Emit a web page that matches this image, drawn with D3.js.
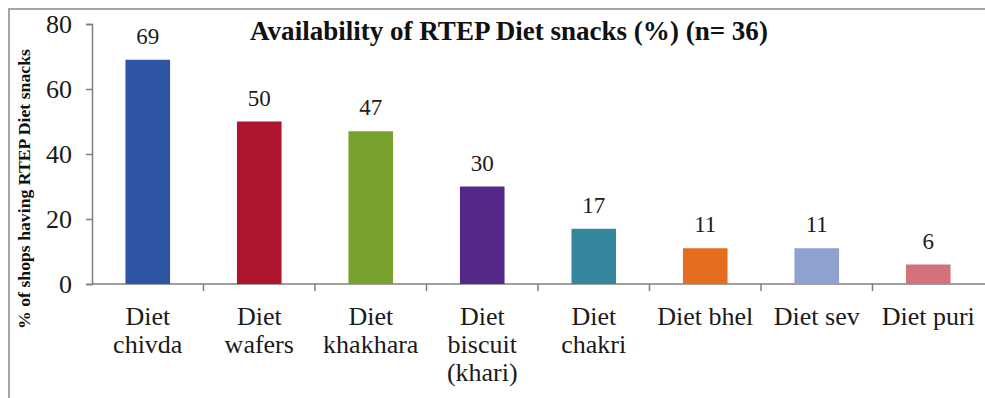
<!DOCTYPE html>
<html>
<head>
<meta charset="utf-8">
<script src="https://cdn.jsdelivr.net/npm/d3@7"></script>
<style>
  html, body { margin: 0; padding: 0; background: #fff; }
  svg { display: block; font-family: "Liberation Serif", "Times New Roman", serif; }
</style>
</head>
<body>
<svg id="chart" width="985" height="398"></svg>
<script>
// Availability of RTEP diet snacks across surveyed shops
const categories = [
  ["Diet", "chivda"],
  ["Diet", "wafers"],
  ["Diet", "khakhara"],
  ["Diet", "biscuit", "(khari)"],
  ["Diet", "chakri"],
  ["Diet bhel"],
  ["Diet sev"],
  ["Diet puri"]
];
const values = [69, 50, 47, 30, 17, 11, 11, 6];
const barColors = ["#2d55a3", "#b01530", "#78a22d", "#55298a", "#34879c", "#e56d1f", "#8fa1cf", "#d4727c"];
const yTicks = [0, 20, 40, 60, 80];
const titleText = "Availability of RTEP Diet snacks (%) (n= 36)";
const yAxisTitle = "% of shops having RTEP Diet snacks";

const svg = d3.select("#chart");
const keys = categories.map(c => c.join(" "));

// outer frame
svg.append("rect")
  .attr("x", 9).attr("y", 9)
  .attr("width", 1000).attr("height", 420)
  .attr("fill", "none")
  .attr("stroke", "#a6a6a6")
  .attr("stroke-width", 2);

const x = d3.scaleBand().domain(keys).range([92, 984]).paddingInner(0.6).paddingOuter(0.3);
const xEdge = d3.scaleLinear().domain([0, keys.length]).range([92, 984]);
const y = d3.scaleLinear().domain([0, 80]).range([284, 24]);

// y axis
const yAxis = svg.append("g")
  .attr("transform", "translate(92,0)")
  .call(d3.axisLeft(y).tickValues(yTicks).tickSize(6).tickPadding(14));
yAxis.select(".domain").attr("stroke", "#7f7f7f").attr("stroke-width", 1.5);
yAxis.selectAll(".tick line").attr("stroke", "#7f7f7f").attr("stroke-width", 1.5);
yAxis.selectAll(".tick text")
  .attr("font-family", "'Liberation Serif', 'Times New Roman', serif")
  .attr("font-size", 26).attr("fill", "#1a1a1a");

// x axis baseline with boundary ticks between categories
const xAxis = svg.append("g");
xAxis.append("line")
  .attr("x1", 92).attr("x2", 985)
  .attr("y1", y(0)).attr("y2", y(0))
  .attr("stroke", "#7f7f7f").attr("stroke-width", 1.5);
xAxis.selectAll("line.tick")
  .data(d3.range(1, keys.length))
  .join("line")
  .attr("class", "tick")
  .attr("x1", d => xEdge(d)).attr("x2", d => xEdge(d))
  .attr("y1", y(0)).attr("y2", y(0) + 7)
  .attr("stroke", "#7f7f7f").attr("stroke-width", 1.5);

// bars
svg.append("g").selectAll("rect")
  .data(values)
  .join("rect")
  .attr("x", (d, i) => x(keys[i]))
  .attr("width", x.bandwidth())
  .attr("y", d => y(d))
  .attr("height", d => y(0) - y(d))
  .attr("fill", (d, i) => barColors[i]);

// value labels
svg.append("g").selectAll("text")
  .data(values)
  .join("text")
  .attr("x", (d, i) => x(keys[i]) + x.bandwidth() / 2)
  .attr("y", d => y(d) - 16)
  .attr("text-anchor", "middle")
  .attr("font-size", 23)
  .attr("fill", "#1a1a1a")
  .text(d => d);

// category labels
const catG = svg.append("g").selectAll("text")
  .data(categories)
  .join("text")
  .attr("text-anchor", "middle")
  .attr("font-size", 26)
  .attr("fill", "#1a1a1a")
  .attr("transform", (d, i) => `translate(${x(keys[i]) + x.bandwidth() / 2},${y(0) + 41})`);
catG.selectAll("tspan")
  .data(d => d)
  .join("tspan")
  .attr("x", 0)
  .attr("y", (d, i) => i * 28)
  .text(d => d);

// chart title
const title = svg.append("text")
  .attr("x", 509).attr("y", 40)
  .attr("text-anchor", "middle")
  .attr("font-weight", "bold")
  .attr("font-size", 21)
  .attr("fill", "#111")
  .text(titleText);
const tw = title.node().getComputedTextLength();
title.attr("font-size", 21 * 518 / tw);

// y axis title
const yt = svg.append("text")
  .attr("transform", "translate(30,189) rotate(-90)")
  .attr("text-anchor", "middle")
  .attr("font-weight", "bold")
  .attr("font-size", 15)
  .attr("fill", "#111")
  .text(yAxisTitle);
const yw = yt.node().getComputedTextLength();
yt.attr("font-size", 15 * 280 / yw);
</script>
</body>
</html>
